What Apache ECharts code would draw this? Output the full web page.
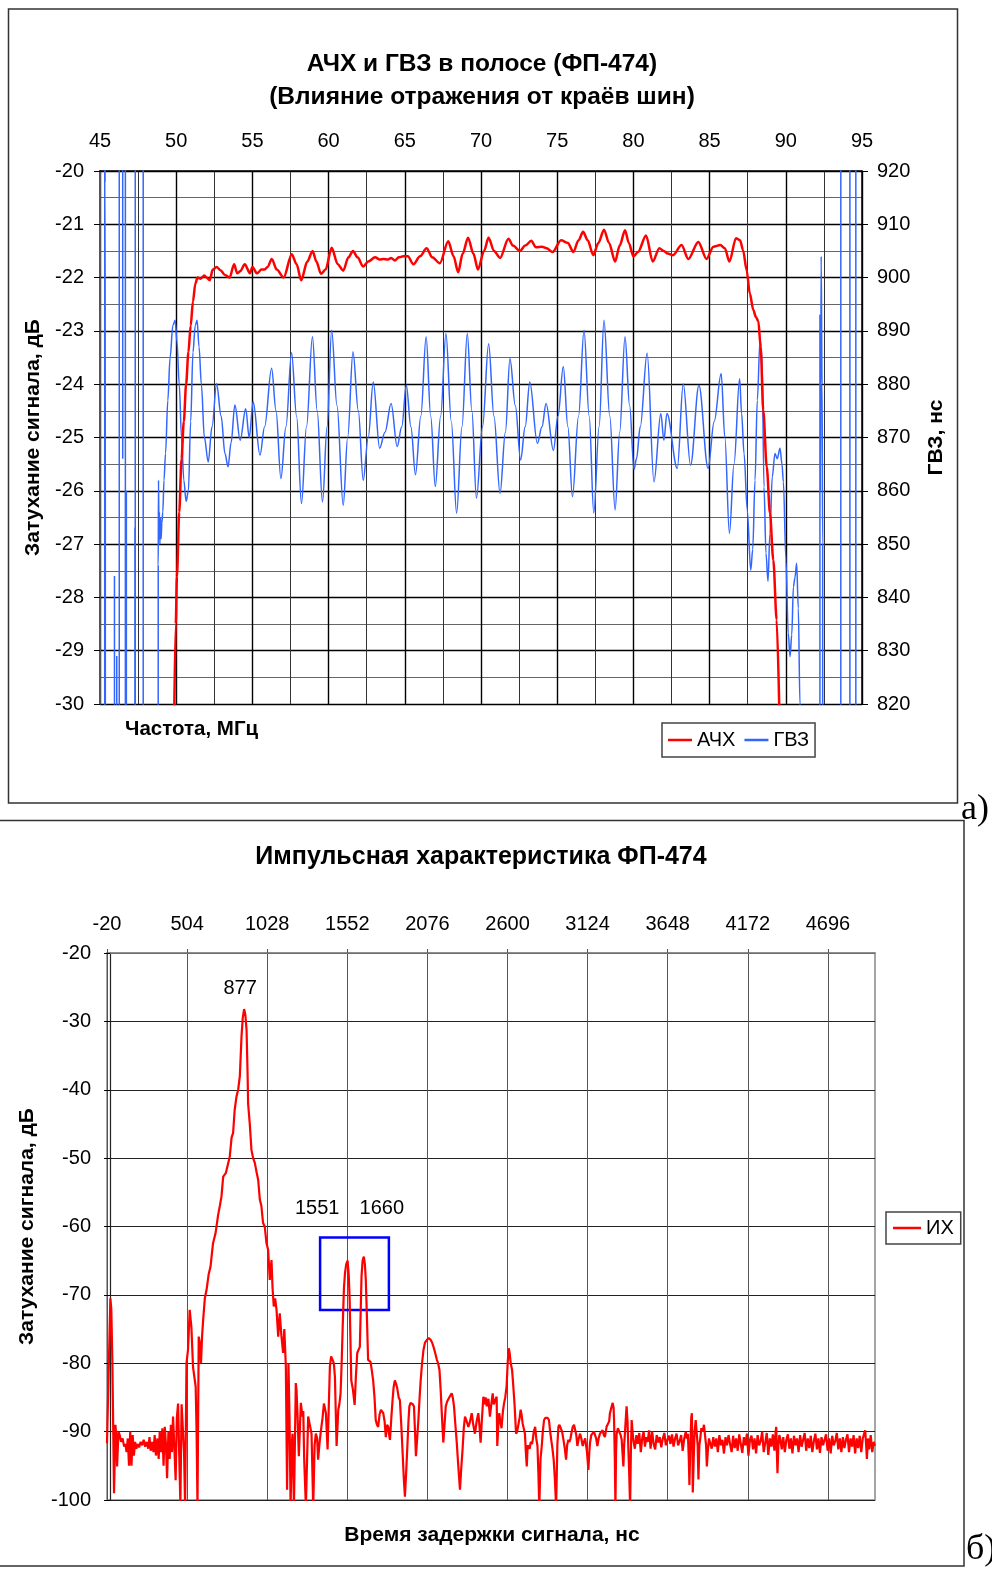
<!DOCTYPE html>
<html>
<head>
<meta charset="utf-8">
<script src="https://cdn.jsdelivr.net/npm/echarts@6/dist/echarts.min.js"></script>
<style>
html,body{margin:0;padding:0;background:#fff;}
#c{width:992px;height:1575px;}
</style>
</head>
<body>
<div id="c"></div>
<script>
// ---------- Chart (a): АЧХ и ГВЗ ----------
const achPoints = [
[49.87,-30.2],[49.97,-28.5],[50.05,-27.6],[50.20,-26.4],[50.35,-25.4],[50.50,-24.7],[50.65,-24.0],[50.80,-23.4],[50.95,-22.9],[51.10,-22.45],[51.25,-22.12],[51.40,-22.0],[51.60,-22.02],[51.85,-21.96],[52.00,-22.0],[52.20,-22.05],[52.40,-21.85],[52.65,-21.8],[52.90,-21.86],[53.20,-21.95],[53.50,-22.0],[53.80,-21.75],[54.00,-21.92],[54.20,-21.88],[54.50,-21.75],[54.84,-21.92],[55.00,-21.8],[55.30,-21.92],[55.60,-21.85],[55.80,-21.85],[56.00,-21.8],[56.27,-21.65],[56.60,-21.85],[57.05,-22.0],[57.58,-21.56],[57.90,-21.75],[58.20,-22.05],[58.60,-21.7],[58.95,-21.5],[59.20,-21.7],[59.50,-21.93],[59.80,-21.85],[60.20,-21.44],[60.60,-21.75],[60.96,-21.87],[61.30,-21.62],[61.60,-21.5],[61.90,-21.62],[62.27,-21.79],[62.60,-21.7],[63.05,-21.62],[63.35,-21.66],[63.60,-21.65],[63.90,-21.66],[64.10,-21.63],[64.35,-21.68],[64.60,-21.62],[64.90,-21.6],[65.20,-21.6],[65.56,-21.75],[66.00,-21.6],[66.43,-21.45],[66.80,-21.62],[67.30,-21.73],[67.85,-21.32],[68.20,-21.6],[68.50,-21.9],[68.80,-21.55],[69.15,-21.25],[69.50,-21.55],[69.80,-21.85],[70.20,-21.5],[70.50,-21.25],[70.85,-21.5],[71.25,-21.63],[71.80,-21.27],[72.10,-21.4],[72.56,-21.5],[72.90,-21.4],[73.30,-21.31],[73.60,-21.43],[74.00,-21.42],[74.30,-21.45],[74.70,-21.52],[75.25,-21.3],[75.70,-21.35],[76.06,-21.52],[76.40,-21.3],[76.70,-21.14],[77.00,-21.3],[77.37,-21.58],[77.70,-21.35],[78.07,-21.1],[78.40,-21.35],[78.80,-21.7],[79.10,-21.4],[79.45,-21.11],[79.70,-21.35],[80.00,-21.6],[80.30,-21.52],[80.83,-21.21],[81.27,-21.7],[81.70,-21.45],[82.00,-21.5],[82.25,-21.55],[82.60,-21.58],[83.16,-21.39],[83.60,-21.65],[84.26,-21.33],[84.80,-21.65],[85.25,-21.42],[85.70,-21.39],[86.00,-21.45],[86.30,-21.7],[86.73,-21.26],[87.00,-21.3],[87.20,-21.49],[87.43,-21.86],[87.64,-22.3],[87.87,-22.61],[88.04,-22.74],[88.20,-22.82],[88.35,-23.3],[88.52,-24.49],[88.75,-25.55],[88.96,-26.42],[89.18,-27.3],[89.40,-28.42],[89.58,-30.2]
];
const gvzPoints = [
[45.00,-3000],[45.30,-3000],[45.32,5000],[45.33,918],[45.35,862],[45.36,-3000],
[45.94,-3000],[45.95,844],[45.96,-3000],
[46.09,-3000],[46.10,829],[46.11,-3000],
[46.26,-3000],[46.27,5000],
[46.48,5000],[46.49,866],[46.50,5000],
[46.66,5000],[46.67,-3000],
[46.72,-3000],[46.73,860],[46.74,-3000],
[47.28,-3000],[47.29,853],[47.30,-3000],
[47.32,-3000],[47.33,5000],
[47.83,5000],[47.84,-3000],
[48.80,-3000],[48.82,846],[48.84,862],[48.87,851],[48.90,856],[48.93,850],[48.97,855],[49.01,851],[49.06,854],[49.12,856],[49.20,862],[49.30,867],[49.45,877],[49.60,885],[49.78,891],[49.93,892],[50.05,888],[50.20,880],[50.35,870],[50.50,862],[50.65,858],[50.80,860],[50.95,873],[51.10,886],[51.25,891],[51.37,892],[51.50,887],[51.65,880],[51.85,870],[52.10,865.4],[52.35,872],[52.65,880.1],[52.95,874],[53.20,867],[53.40,864.5],[53.60,869],[53.85,876.1],[54.20,869.5],[54.56,875.4],[54.79,870],[55.05,876.7],[55.50,866.7],[55.80,872],[56.26,883],[56.55,875],[56.87,862.3],[57.20,872],[57.57,885.9],[57.90,874],[58.22,857.6],[58.55,872],[58.94,888.9],[59.25,875],[59.60,857.9],[59.90,872],[60.20,890.1],[60.55,876],[60.96,857.3],[61.25,870],[61.60,886.1],[61.95,875],[62.27,862],[62.60,870],[62.93,880.4],[63.35,868],[63.70,871],[64.10,876.4],[64.50,868.3],[64.80,872],[65.10,879.8],[65.40,872],[65.70,863],[66.05,874],[66.40,888.9],[66.70,874],[67.00,860.8],[67.35,874],[67.70,889.5],[68.05,873],[68.40,855.8],[68.75,872],[69.10,889.5],[69.40,875],[69.70,858.6],[70.10,872],[70.50,887.6],[70.85,874],[71.25,859.5],[71.60,871],[71.90,884.8],[72.25,876],[72.60,865.8],[72.90,872],[73.20,880.4],[73.70,868.9],[74.00,872],[74.27,876.4],[74.75,867.6],[75.05,874],[75.40,883.3],[75.70,872],[76.00,858.9],[76.40,874],[76.76,890.1],[77.10,874],[77.40,855.8],[77.75,872],[78.07,892],[78.45,874],[78.80,856.4],[79.10,871],[79.45,888.9],[79.75,876],[80.04,864],[80.20,866],[80.45,872],[80.90,885.8],[81.35,861.7],[81.80,874.5],[82.00,869.5],[82.20,874.5],[82.88,864.2],[83.27,880.1],[83.75,864.8],[84.30,879.8],[84.90,864.2],[85.30,873],[85.76,882],[86.00,870],[86.30,852],[86.60,865],[86.97,881],[87.10,874.5],[87.26,867],[87.47,856.4],[87.70,845.1],[87.83,849],[87.98,862],[88.13,877],[88.31,888.3],[88.44,885],[88.57,860.7],[88.70,848.3],[88.83,843],[88.96,852],[89.11,862.6],[89.29,867],[89.44,866],[89.62,868],[89.75,865],[89.84,861.7],[90.01,847],[90.16,833.3],[90.28,828.9],[90.39,833],[90.50,842],[90.60,843.7],[90.71,846.4],[90.82,838],[90.93,820],[90.98,-3000],
[92.20,-3000],[92.24,893],[92.27,860],[92.32,904],[92.38,880],[92.42,850],[92.45,-3000],
[93.60,-3000],[93.62,5000],[94.20,5000],[94.21,-3000],[94.59,-3000],[94.60,5000],[95.00,5000]
];

// ---------- Chart (б): Импульсная характеристика ----------
const irTicks = [-20,504,1028,1552,2076,2600,3124,3648,4172,4696];
const irPeaks = [[877,-28.2],[1551,-65],[1660,-64.4]];
const irBox = [[1374,-61.6],[1824,-72.2]];
const irPoints = [
[-20,-91.7],[2,-70.5],[8,-72],[15,-79.5],[26,-99],[35,-89],[42,-91],[46,-95.1],[55,-90],[63,-90.5],[72,-91.5],[82,-91],[92,-92.2],[100,-91.8],[108,-93],[116,-91],[124,-95],[132,-90],[140,-95],[148,-90.5],[156,-93.5],[164,-91.5],[172,-92.5],[180,-91.8],[190,-92.3],[200,-91.5],[210,-92],[220,-91.2],[230,-92.2],[240,-91.5],[250,-92.5],[258,-90.8],[266,-92.8],[275,-91.5],[284,-93],[292,-90.5],[300,-93.5],[310,-91],[318,-94],[325,-90],[333,-93],[342,-89.5],[350,-95],[358,-89.3],[366,-92],[373,-96.8],[382,-90],[390,-94],[398,-89],[405,-93],[412,-87.8],[420,-92],[429,-97.1],[437,-88],[445,-85.9],[452,-93],[460,-100.5],[468,-86],[476,-85.8],[484,-93],[491,-101],[500,-80],[510,-78],[521,-72.2],[532,-74.7],[543,-80.6],[560,-83.4],[566,-90],[572,-101],[580,-76.1],[587,-77],[595,-80],[602,-76],[609,-73.7],[620,-70.5],[631,-69.3],[645,-67],[657,-65.9],[666,-64],[674,-62.4],[690,-61],[707,-58.3],[718,-57],[729,-55.6],[740,-52.7],[757,-52.2],[770,-51],[783,-49.8],[795,-47],[805,-46.3],[815,-43],[827,-41],[838,-40],[849,-38],[860,-32.2],[868,-29.5],[877,-28.2],[885,-29],[893,-31.3],[900,-38],[903,-42],[914,-45],[925,-48.8],[936,-50],[947,-50.7],[958,-52],[969,-53.2],[980,-56.1],[990,-57],[1001,-59.5],[1012,-60],[1023,-62.4],[1034,-63.4],[1045,-67.8],[1056,-64.9],[1063,-69],[1071,-71.7],[1080,-70.5],[1089,-72.2],[1100,-76.1],[1110,-72.7],[1121,-76],[1132,-78.5],[1140,-75],[1150,-80.5],[1158,-98.5],[1167,-80],[1174,-88],[1181,-101],[1188,-92],[1194,-90.3],[1203,-101],[1215,-82.9],[1220,-84],[1226,-87.3],[1235,-93.6],[1248,-85.8],[1259,-87.8],[1264,-87],[1270,-94.1],[1281,-101],[1296,-87.8],[1307,-88],[1318,-90.3],[1329,-101],[1338,-92],[1346,-90.3],[1355,-91],[1361,-94.1],[1369,-92],[1377,-90.3],[1390,-88],[1399,-85.9],[1405,-86.5],[1412,-87.3],[1423,-92.6],[1430,-87],[1438,-80.5],[1446,-79],[1456,-79.5],[1464,-80],[1471,-82],[1482,-92.1],[1493,-86.8],[1500,-86],[1508,-84.4],[1515,-80],[1522,-74.6],[1530,-69],[1537,-66.8],[1545,-65.5],[1554,-65],[1561,-67],[1567,-70.3],[1572,-76],[1578,-82.5],[1589,-83.9],[1600,-86.1],[1608,-82],[1617,-78.5],[1626,-78],[1634,-77.6],[1640,-72],[1645,-67.3],[1652,-65],[1660,-64.4],[1667,-65.5],[1673,-67.8],[1680,-73],[1688,-79.5],[1696,-79.5],[1704,-79.8],[1712,-81],[1721,-82.5],[1730,-85],[1738,-88.3],[1746,-89],[1754,-89.3],[1763,-87.5],[1772,-86.8],[1780,-87],[1787,-87.3],[1796,-88.5],[1804,-90.8],[1812,-89],[1820,-89.3],[1826,-90.5],[1831,-91.2],[1840,-88],[1848,-85.4],[1855,-83.5],[1863,-82.5],[1871,-83],[1879,-83.7],[1888,-85],[1896,-85.4],[1905,-89],[1914,-93.2],[1922,-97],[1929,-99.5],[1937,-96],[1945,-92.1],[1952,-88.5],[1958,-86.3],[1966,-85.8],[1973,-85.8],[1980,-86],[1988,-86.3],[1995,-90],[2001,-93.6],[2009,-91],[2017,-88.3],[2025,-85],[2032,-82.5],[2041,-80],[2050,-78.1],[2060,-77],[2072,-76.6],[2085,-76.3],[2098,-76.6],[2107,-77],[2116,-77.6],[2127,-78.5],[2138,-79.5],[2146,-80],[2155,-81],[2163,-84],[2170,-87.3],[2180,-91.6],[2188,-89],[2196,-86.3],[2205,-85.6],[2213,-85.4],[2224,-84.8],[2235,-84.4],[2242,-85],[2250,-86.3],[2259,-89],[2268,-91.6],[2278,-95],[2289,-98.5],[2297,-95.5],[2306,-92.6],[2314,-89.5],[2322,-87.8],[2333,-88.5],[2344,-89.3],[2355,-88.5],[2366,-87.3],[2376,-89],[2387,-90.3],[2398,-88.5],[2409,-87.3],[2416,-89],[2424,-91.6],[2433,-88],[2442,-84.9],[2450,-86],[2457,-85],[2464,-86.3],[2470,-85.5],[2475,-85.2],[2480,-86.5],[2485,-87.8],[2494,-86],[2503,-84.4],[2510,-86],[2518,-85.5],[2529,-84.9],[2533,-92.1],[2540,-89],[2546,-87.3],[2553,-88.5],[2561,-89.5],[2570,-87],[2577,-85.9],[2585,-85],[2594,-83.4],[2601,-80],[2608,-77.8],[2614,-78.5],[2621,-80],[2630,-81],[2638,-83.4],[2646,-86],[2656,-90.3],[2663,-90],[2671,-90],[2679,-88],[2686,-86.8],[2692,-87.5],[2699,-88.8],[2706,-89.5],[2714,-90.3],[2720,-93],[2726,-95.1],[2732,-92],[2737,-92.1],[2745,-92.5],[2752,-91.5],[2760,-91.8],[2765,-91.2],[2772,-90],[2781,-89.3],[2788,-91],[2796,-92.1],[2802,-96],[2808,-101],[2816,-94],[2824,-92.1],[2831,-90],[2839,-88.3],[2848,-88],[2856,-87.8],[2863,-88],[2871,-88.3],[2879,-90],[2886,-91.2],[2894,-92.5],[2902,-94.1],[2910,-97],[2918,-101],[2926,-92],[2933,-89.3],[2940,-89],[2948,-88.8],[2957,-90],[2966,-91.2],[2975,-92.5],[2983,-94.1],[2990,-92],[2998,-91.2],[3005,-91.5],[3012,-91],[3020,-90],[3027,-89.3],[3035,-89],[3042,-88.8],[3050,-90.5],[3057,-92.1],[3066,-91],[3075,-90.3],[3083,-91],[3092,-92.1],[3100,-91.5],[3108,-91],[3114,-90.8],[3120,-93],[3129,-95.6],[3135,-93],[3140,-91.6],[3148,-90.5],[3157,-90.3],[3165,-90],[3172,-89.8],[3180,-91],[3188,-92.1],[3196,-91],[3205,-90.3],[3213,-90.5],[3222,-89.8],[3230,-90.5],[3237,-90.8],[3243,-90],[3248,-89.3],[3258,-89.5],[3265,-88.5],[3270,-87.3],[3279,-86.5],[3288,-85.8],[3294,-86.5],[3297,-88.3],[3302,-94],[3306,-101],[3310,-93],[3314,-90.3],[3322,-89.5],[3332,-89.3],[3340,-90.5],[3347,-91.2],[3352,-93],[3358,-95.1],[3363,-92],[3368,-90.3],[3374,-88],[3379,-86.3],[3385,-88.5],[3390,-92.1],[3396,-96],[3402,-101],[3407,-93],[3412,-88.3],[3418,-90],[3423,-91.2],
[3433,-92.5],[3443,-90.5],[3452,-91.8],[3462,-90.2],[3472,-93],[3481,-91],[3490,-90],[3499,-92.2],[3508,-90.8],[3517,-91.5],[3526,-89.8],[3536,-92.5],[3546,-90],[3556,-91.8],[3566,-92.6],[3576,-90.5],[3586,-91.6],[3596,-90.8],[3606,-92.3],[3616,-91],[3626,-90.2],[3636,-92],[3646,-91.2],[3656,-90.6],[3666,-91.8],[3676,-90.4],[3686,-92.2],[3696,-91],[3706,-90.3],[3716,-92],[3726,-91.4],[3736,-90.5],[3746,-92.8],[3756,-91],[3766,-90],
[3773,-91],[3780,-90.3],[3786,-94],[3790,-97.8],[3796,-92],[3802,-88],[3806,-87.3],[3810,-93],[3812,-98.9],[3818,-94],[3824,-90],[3831,-88.3],[3838,-88.3],[3844,-92],[3849,-97],[3855,-92],[3860,-91.2],[3868,-89.5],[3877,-90],[3885,-89],[3893,-88.8],[3899,-92],[3904,-95.1],[3910,-93],[3918,-91],[3926,-91.2],
[3936,-92.5],[3946,-90.8],[3956,-92.2],[3966,-91],[3976,-93],[3986,-90.5],[3996,-92],[4006,-91.2],[4016,-93.2],[4026,-90.8],[4036,-92],[4046,-90.5],[4056,-91.8],[4066,-93],[4076,-90.6],[4086,-92.4],[4096,-91],[4106,-92.8],[4116,-90.4],[4126,-91.8],[4136,-93.1],[4146,-90.8],[4156,-92],[4166,-90.3],[4176,-93.5],[4186,-91.2],[4196,-90.6],[4206,-92.6],[4216,-91],[4226,-93.2],[4236,-90.5],[4246,-92],[4256,-91.4],[4266,-90],[4276,-93],[4286,-91.6],[4296,-90.2],[4306,-93.4],[4316,-91],[4326,-92.2],[4336,-90.4],[4346,-92.8],[4354,-90],[4358,-89.3],[4362,-93],[4366,-96.1],[4372,-92],[4378,-90.5],[4384,-91],[4394,-92.6],[4404,-90.8],[4414,-93],[4424,-91.2],[4434,-90.4],[4444,-92.5],[4454,-91],[4464,-93.2],[4474,-90.6],[4484,-92],[4494,-91],[4504,-93],[4514,-90.5],[4524,-92.2],[4534,-91.2],[4544,-90.2],[4554,-92.8],[4564,-91],[4574,-92.4],[4584,-90.6],[4594,-93],[4604,-91.4],[4614,-90.3],[4624,-92.6],[4634,-91],[4644,-93.1],[4654,-90.8],[4664,-92],[4674,-91.2],[4684,-90.4],[4694,-92.8],[4704,-91],[4714,-93.2],[4724,-90.6],[4734,-92],[4744,-91.4],[4754,-90.2],[4764,-92.6],[4774,-91],[4784,-93],[4794,-90.8],[4804,-92.4],[4814,-91.2],[4824,-90.4],[4834,-93],[4844,-91],[4854,-92.2],[4864,-90.5],[4874,-93.2],[4884,-91],[4894,-92.4],[4904,-90.6],[4914,-93],[4924,-91],[4934,-90.2],[4940,-89.8],[4946,-92],[4951,-94],[4958,-91],[4966,-92.6],[4976,-90.5],[4986,-93],[4996,-91.5],[5003,-92.1]
];

const FONT = '"Liberation Sans", Arial, sans-serif';
const lbl = (extra) => Object.assign({fontSize:20, color:'#000', fontFamily:FONT}, extra||{});
const plain = (v) => String(v);

const chart = echarts.init(document.getElementById('c'), null, {renderer:'canvas'});
const option = {
  animation:false,
  backgroundColor:'#fff',
  grid:[
    {left:100, top:171, width:762, height:533},
    {left:107, top:953, width:768, height:547, show:true, borderColor:'#888', borderWidth:1.5, backgroundColor:'transparent'}
  ],
  xAxis:[
    {gridIndex:0, type:'value', position:'top', min:45, max:95, interval:5,
     axisLine:{show:true, lineStyle:{color:'#000', width:1.5}},
     axisTick:{show:false},
     axisLabel:lbl({margin:20, formatter:plain}),
     splitLine:{show:true, lineStyle:{color:'#000', width:1.4}},
     minorTick:{show:false, splitNumber:2},
     minorSplitLine:{show:true, lineStyle:{color:'#333', width:1}}},
    {gridIndex:1, type:'value', position:'top', min:-20, max:5004,
     axisLine:{show:true, lineStyle:{color:'#888', width:1.5}},
     axisTick:{show:true, customValues:irTicks, length:4, lineStyle:{color:'#555'}},
     axisLabel:lbl({margin:19, customValues:irTicks, formatter:plain}),
     splitLine:{show:true, lineStyle:{color:'#555', width:1}}}
  ],
  yAxis:[
    {gridIndex:0, type:'value', min:-30, max:-20, interval:1,
     name:'Затухание сигнала, дБ', nameLocation:'middle', nameRotate:90, nameGap:55,
     nameTextStyle:lbl({fontWeight:'bold', fontSize:21}),
     axisLine:{show:true, lineStyle:{color:'#555', width:2}},
     axisTick:{show:true, length:6, lineStyle:{color:'#000'}},
     axisLabel:lbl({margin:16}),
     splitLine:{show:true, lineStyle:{color:'#000', width:1.4}},
     minorTick:{show:false, splitNumber:2},
     minorSplitLine:{show:true, lineStyle:{color:'#666', width:1}}},
    {gridIndex:0, type:'value', position:'right', min:820, max:920, interval:10,
     name:'ГВЗ, нс', nameLocation:'middle', nameRotate:90, nameGap:64,
     nameTextStyle:lbl({fontWeight:'bold', fontSize:21}),
     axisLine:{show:true, lineStyle:{color:'#000', width:1.5}},
     axisTick:{show:true, length:6, lineStyle:{color:'#000'}},
     axisLabel:lbl({margin:15}),
     splitLine:{show:false}},
    {gridIndex:1, type:'value', min:-100, max:-20, interval:10,
     name:'Затухание сигнала, дБ', nameLocation:'middle', nameRotate:90, nameGap:69,
     nameTextStyle:lbl({fontWeight:'bold', fontSize:21}),
     axisLine:{show:true, lineStyle:{color:'#222', width:1.2}},
     axisTick:{show:true, length:6, lineStyle:{color:'#000'}},
     axisLabel:lbl({margin:16}),
     splitLine:{show:true, lineStyle:{color:'#222', width:1}}}
  ],
  legend:[
    {data:['АЧХ','ГВЗ'], left:662, top:723, orient:'horizontal', icon:'rect', itemWidth:24, itemHeight:2.5, itemGap:9,
     padding:[7,6,7,6], borderColor:'#444', borderWidth:1.5, backgroundColor:'#fff',
     textStyle:lbl({padding:[2,0,0,0]}), selectedMode:false},
    {data:['ИХ'], left:886, top:1212, orient:'horizontal', icon:'rect', itemWidth:28, itemHeight:2.5,
     padding:[6,7,6,7], borderColor:'#444', borderWidth:1.5, backgroundColor:'#fff',
     textStyle:lbl({padding:[2,0,0,0]}), selectedMode:false}
  ],
  series:[
    {name:'ГВЗ', type:'line', xAxisIndex:0, yAxisIndex:1, data:gvzPoints, symbol:'none', clip:true,
     smooth:0.35, smoothMonotone:'x',
     lineStyle:{color:'#3366ff', width:1.5}, itemStyle:{color:'#3366ff'}, z:2},
    {name:'АЧХ', type:'line', xAxisIndex:0, yAxisIndex:0, data:achPoints, symbol:'none', clip:true,
     smooth:0.3, smoothMonotone:'x',
     lineStyle:{color:'#ff0000', width:2.5}, itemStyle:{color:'#ff0000'}, z:3},
    {name:'ИХ', type:'line', xAxisIndex:1, yAxisIndex:2, data:irPoints, symbol:'none', clip:true,
     lineStyle:{color:'#ff0000', width:2.2}, itemStyle:{color:'#ff0000'}, z:3,
     markArea:{silent:true, itemStyle:{color:'rgba(0,0,0,0)', borderColor:'#0000ff', borderWidth:2.5},
       label:{show:false},
       data:[[{coord:irBox[0]},{coord:irBox[1]}]]},
     markPoint:{silent:true, symbol:'circle', symbolSize:1, itemStyle:{color:'rgba(0,0,0,0)'},
       label:{show:true, position:'inside', fontSize:20, color:'#000', fontFamily:FONT},
       data:[
         {coord:irPeaks[0], value:irPeaks[0][0], label:{formatter:String(irPeaks[0][0]), offset:[-4,-21]}},
         {coord:irPeaks[1], value:irPeaks[1][0], label:{formatter:String(irPeaks[1][0]), offset:[-30,-52]}},
         {coord:irPeaks[2], value:irPeaks[2][0], label:{formatter:String(irPeaks[2][0]), offset:[18,-48]}}
       ]}}
  ],
  graphic:[
    {type:'rect', shape:{x:8.5, y:9, width:949, height:794}, style:{fill:'none', stroke:'#333', lineWidth:1.5}, z:-1},
    {type:'rect', shape:{x:-2, y:820.5, width:966, height:745.5}, style:{fill:'none', stroke:'#333', lineWidth:1.5}, z:-1},
    {type:'text', x:482, y:64, style:{text:'АЧХ и ГВЗ в полосе (ФП-474)', font:'bold 24.5px '+FONT, fill:'#000', align:'center', verticalAlign:'middle'}},
    {type:'text', x:482, y:97, style:{text:'(Влияние отражения от краёв шин)', font:'bold 24.5px '+FONT, fill:'#000', align:'center', verticalAlign:'middle'}},
    {type:'text', x:125, y:729, style:{text:'Частота, МГц', font:'bold 20.5px '+FONT, fill:'#000', align:'left', verticalAlign:'middle'}},
    {type:'text', x:481, y:857, style:{text:'Импульсная характеристика ФП-474', font:'bold 25px '+FONT, fill:'#000', align:'center', verticalAlign:'middle'}},
    {type:'text', x:492, y:1535, style:{text:'Время задержки сигнала, нс', font:'bold 21px '+FONT, fill:'#000', align:'center', verticalAlign:'middle'}},
    {type:'text', x:961, y:810, style:{text:'а)', font:'36px "Liberation Serif", "Times New Roman", serif', fill:'#000', align:'left', verticalAlign:'middle'}},
    {type:'text', x:966, y:1550, style:{text:'б)', font:'36px "Liberation Serif", "Times New Roman", serif', fill:'#000', align:'left', verticalAlign:'middle'}}
  ]
};
chart.setOption(option);
</script>
</body>
</html>
